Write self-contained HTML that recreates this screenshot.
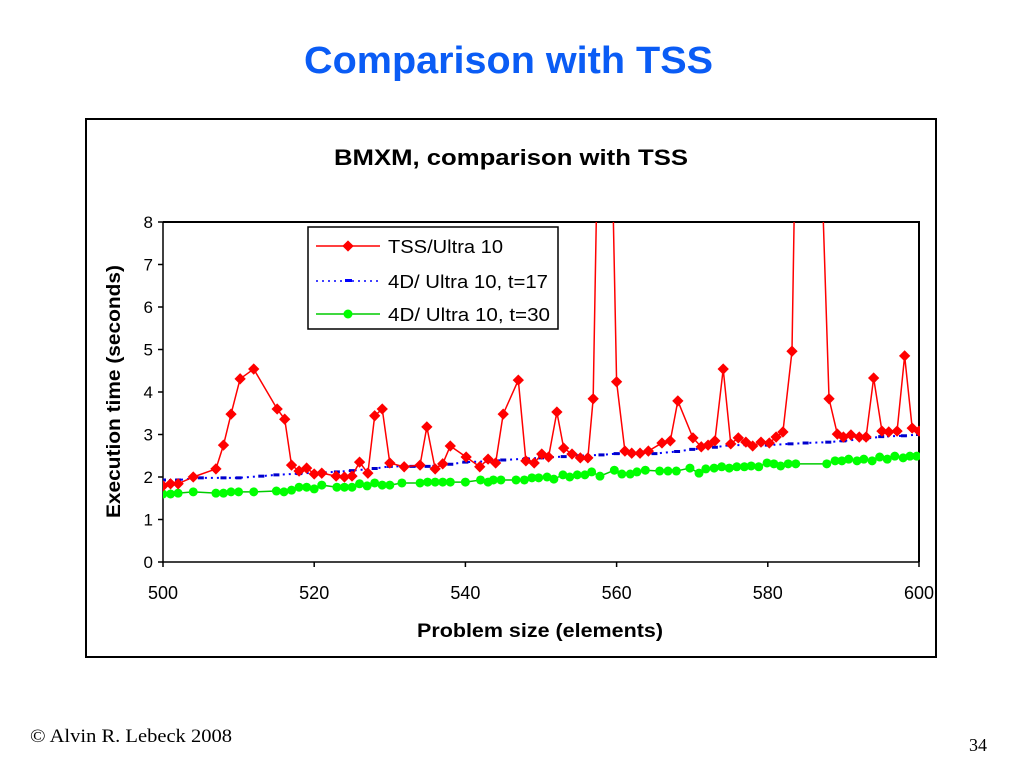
<!DOCTYPE html>
<html><head><meta charset="utf-8"><style>
body{margin:0;width:1024px;height:768px;background:#fff;overflow:hidden;font-family:"Liberation Sans",sans-serif}
</style></head><body>
<svg width="1024" height="768" xmlns="http://www.w3.org/2000/svg">
<text x="304" y="73" textLength="409" lengthAdjust="spacingAndGlyphs" font-size="38" font-weight="bold" fill="#0a5cf5" font-family="Liberation Sans">Comparison with TSS</text>
<rect x="86" y="119" width="850" height="538" fill="none" stroke="#000" stroke-width="2"/>
<text x="334" y="165" textLength="354" lengthAdjust="spacingAndGlyphs" font-size="22" font-weight="bold">BMXM, comparison with TSS</text>
<text transform="translate(120,518) rotate(-90)" textLength="253" lengthAdjust="spacingAndGlyphs" font-size="19" font-weight="bold">Execution time (seconds)</text>
<text x="417" y="637" textLength="246" lengthAdjust="spacingAndGlyphs" font-size="19" font-weight="bold">Problem size (elements)</text>
<defs><clipPath id="pc"><rect x="163" y="222" width="757" height="345"/></clipPath></defs>
<g id="axes"></g>
<g id="series" clip-path="url(#pc)"></g>
<g>
<rect x="308" y="227" width="250" height="102" fill="#fff" stroke="#000" stroke-width="1.5"/>
<line x1="316" y1="246" x2="380" y2="246" stroke="#f00" stroke-width="1.5"/>
<rect x="344" y="242" width="8" height="8" fill="#f00" transform="rotate(45 348 246)"/>
<text x="388" y="253" textLength="115" lengthAdjust="spacingAndGlyphs" font-size="18">TSS/Ultra 10</text>
<line x1="316" y1="281" x2="380" y2="281" stroke="#00f" stroke-width="1.5" stroke-dasharray="2,4"/>
<rect x="345" y="279" width="7" height="3" fill="#00f"/>
<text x="388" y="288" textLength="160" lengthAdjust="spacingAndGlyphs" font-size="18">4D/ Ultra 10, t=17</text>
<line x1="316" y1="314" x2="380" y2="314" stroke="#0c0" stroke-width="1.5"/>
<circle cx="348" cy="314" r="4.5" fill="#0f0"/>
<text x="388" y="321" textLength="162" lengthAdjust="spacingAndGlyphs" font-size="18">4D/ Ultra 10, t=30</text>
</g>
<text x="30" y="742" textLength="202" lengthAdjust="spacingAndGlyphs" font-size="19" font-family="Liberation Serif">© Alvin R. Lebeck 2008</text>
<text x="969" y="751" font-size="18" font-family="Liberation Serif">34</text>
</svg>
<script>
const xTicks=[500,520,540,560,580,600];
const yTicks=[0,1,2,3,4,5,6,7,8];
const tssX=[500,501,502,504,507,508,509,510.2,512,515.1,516.1,517,518,519,520,521,522.9,524,525,526,527.1,528,529,530,531.9,534,534.9,536,537,538,540.1,541.9,543,544,545,547,548,549.1,550.1,551,552.1,553,554.1,555.2,556.2,556.9,557.9,558.9,560,561.1,562,563.1,564.2,566,567.1,568.1,570.1,571.2,572.1,573,574.1,575.1,576.1,577.1,578,579.1,580.2,581.1,582,583.2,584.2,585.9,588.1,589.2,590,591,592.1,593,594,595.1,596,597.1,598.1,599.1,600];
const tssY=[1.79,1.84,1.84,2.0,2.19,2.75,3.48,4.31,4.54,3.6,3.36,2.28,2.14,2.21,2.07,2.09,2.02,2.0,2.02,2.35,2.09,3.44,3.6,2.33,2.24,2.28,3.18,2.19,2.31,2.73,2.47,2.24,2.42,2.33,3.48,4.28,2.38,2.33,2.54,2.47,3.53,2.68,2.54,2.45,2.45,3.84,14,14,4.24,2.61,2.56,2.56,2.61,2.8,2.85,3.79,2.92,2.71,2.75,2.85,4.54,2.78,2.92,2.82,2.73,2.82,2.8,2.94,3.06,4.96,16,16,3.84,3.01,2.94,2.99,2.94,2.94,4.33,3.08,3.06,3.08,4.85,3.15,3.08];
const t17X=[500,502,505,508,510,513,515,518,520,523,525,528,530,533,535,538,540,543,545,548,550,553,555,558,560,563,565,568,570,573,575,578,580,583,585,588,590,593,595,598,600];
const t17Y=[1.93,1.93,1.98,1.98,1.98,2.02,2.05,2.08,2.1,2.12,2.15,2.2,2.25,2.25,2.25,2.3,2.35,2.37,2.4,2.43,2.45,2.48,2.5,2.52,2.55,2.55,2.55,2.6,2.65,2.7,2.75,2.75,2.75,2.78,2.8,2.82,2.85,2.9,2.95,2.97,3.0];
const t30X=[500,501,502,504,507,508,509,510,512,515,516,517,518,519,520,521,523,524,525,526,527,528,529,530,531.6,534,535,536,537,538,540,542,543,543.7,544.7,546.7,547.8,548.8,549.7,550.8,551.7,552.9,553.8,554.8,555.8,556.7,557.8,559.7,560.7,561.8,562.7,563.8,565.7,566.8,567.9,569.7,570.9,571.8,572.9,573.9,574.9,575.9,576.9,577.8,578.8,579.9,580.8,581.7,582.7,583.7,587.8,588.9,589.8,590.7,591.8,592.7,593.8,594.8,595.8,596.8,597.9,598.8,599.7];
const t30Y=[1.6,1.6,1.62,1.65,1.62,1.62,1.65,1.65,1.65,1.67,1.65,1.69,1.76,1.76,1.72,1.81,1.76,1.76,1.76,1.84,1.79,1.86,1.81,1.81,1.86,1.86,1.88,1.88,1.88,1.88,1.88,1.93,1.88,1.93,1.93,1.93,1.93,1.98,1.98,2.0,1.95,2.05,2.0,2.05,2.05,2.12,2.02,2.16,2.07,2.07,2.12,2.16,2.14,2.14,2.14,2.21,2.09,2.19,2.21,2.24,2.21,2.24,2.24,2.26,2.24,2.33,2.31,2.26,2.31,2.31,2.31,2.38,2.38,2.42,2.38,2.42,2.38,2.47,2.42,2.49,2.45,2.49,2.49];
const NS='http://www.w3.org/2000/svg';
const X=v=>163+(v-500)*7.56;
const Y=v=>562-v*42.5;
function mk(tag,attrs,parent){const e=document.createElementNS(NS,tag);for(const k in attrs)e.setAttribute(k,attrs[k]);parent.appendChild(e);return e;}
const ax=document.getElementById('axes');
const se=document.getElementById('series');
let f=mk('path',{d:`M${X(500)} ${Y(8)}H${X(600)}V${Y(0)}`,fill:'none',stroke:'#000','stroke-width':2},ax);


let a=mk('path',{d:`M${X(500)} ${Y(8)}V${Y(0)}H${X(600)}`,fill:'none',stroke:'#000','stroke-width':1.5},ax);


yTicks.forEach(t=>{
 mk('line',{x1:X(500)-5,x2:X(500),y1:Y(t),y2:Y(t),stroke:'#000','stroke-width':1.5},ax);
 const tx=mk('text',{x:X(500)-10,y:Y(t)+6,'text-anchor':'end','font-size':17},ax);tx.textContent=t;
 
 
});
xTicks.forEach(t=>{
 mk('line',{x1:X(t),x2:X(t),y1:Y(0),y2:Y(0)+5,stroke:'#000','stroke-width':1.5},ax);
 const tx=mk('text',{x:X(t),y:599,'text-anchor':'middle','font-size':18},ax);tx.textContent=t;
 
 
});
function pts(xs,ys){return xs.map((x,i)=>X(x)+','+Y(ys[i])).join(' ');}
let l1=mk('polyline',{points:pts(t30X,t30Y),fill:'none',stroke:'#0c0','stroke-width':1.5},se);


t30X.forEach((x,i)=>{const c=mk('circle',{cx:X(x),cy:Y(t30Y[i]),r:4.5,fill:'#0f0'},se);
 
 });
let l2=mk('polyline',{points:pts(t17X,t17Y),fill:'none',stroke:'#00f','stroke-width':2,'stroke-dasharray':'2,4'},se);


t17X.forEach((x,i)=>{const r=mk('rect',{x:X(x)-3,y:Y(t17Y[i])-1.5,width:6,height:3,fill:'#00c'},se);
 
 });
let l3=mk('polyline',{points:pts(tssX,tssY),fill:'none',stroke:'#f00','stroke-width':1.5},se);


tssX.forEach((x,i)=>{const cx=X(x),cy=Y(tssY[i]);const r=mk('rect',{x:cx-4,y:cy-4,width:8,height:8,fill:'#f00',transform:`rotate(45 ${cx} ${cy})`},se);
 
 });
</script>
</body></html>
